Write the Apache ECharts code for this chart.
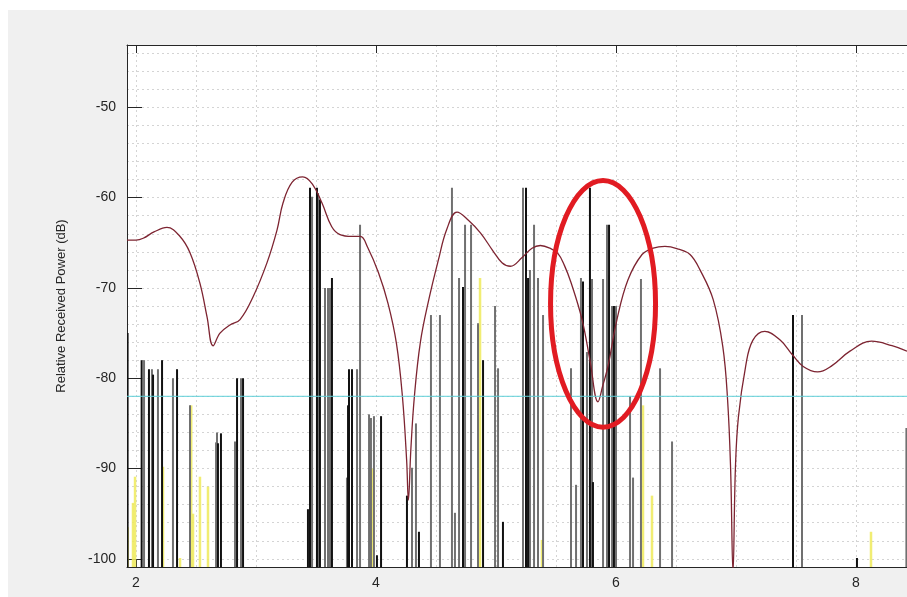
<!DOCTYPE html>
<html>
<head>
<meta charset="utf-8">
<script src="https://cdn.jsdelivr.net/npm/echarts@6/dist/echarts.min.js"></script>
<style>
  html, body { margin: 0; padding: 0; background: #ffffff; }
  #wrap { position: relative; width: 907px; height: 597px; overflow: hidden; }
  #bg { position: absolute; left: 8px; top: 10px; width: 899px; height: 587px; background: #f0f0f0; }
  #chart { position: absolute; left: 0; top: 0; width: 907px; height: 597px; }
</style>
</head>
<body>
<div id="wrap"><div id="bg"></div><div id="chart"></div></div>
<script>
// ---- axis ranges & ticks ----
const xRange = [1.925, 8.425];
const yRange = [-100.9, -43.1];
const xTickStep = 2;
const yTickStep = 10;
const yLabel = 'Relative Received Power (dB)';

// ---- model curve (dark red) ----
const curveX = [1.925, 2.0, 2.06, 2.15, 2.258, 2.367, 2.45, 2.533, 2.592, 2.642, 2.70, 2.783, 2.867, 2.975, 3.092, 3.175, 3.225, 3.30, 3.39, 3.47, 3.55, 3.63, 3.70, 3.80, 3.87, 3.93, 4.02, 4.10, 4.17, 4.22, 4.255, 4.27, 4.29, 4.32, 4.37, 4.44, 4.52, 4.59, 4.675, 4.77, 4.87, 4.97, 5.05, 5.12, 5.22, 5.30, 5.37, 5.45, 5.517, 5.57, 5.625, 5.717, 5.783, 5.85, 5.89, 5.933, 6.008, 6.10, 6.217, 6.31, 6.408, 6.52, 6.617, 6.70, 6.81, 6.89, 6.93, 6.955, 6.975, 6.995, 7.02, 7.08, 7.14, 7.24, 7.37, 7.47, 7.56, 7.68, 7.80, 7.95, 8.13, 8.30, 8.425];
const curveY = [-64.7, -64.7, -64.5, -63.8, -63.3, -64.3, -66.1, -69.5, -73.2, -76.4, -75.0, -74.1, -73.5, -71.0, -67.2, -63.6, -60.6, -58.3, -57.7, -58.5, -60.6, -63.2, -64.1, -64.3, -64.3, -65.5, -68.3, -71.7, -76.1, -82.0, -89.0, -93.5, -88.0, -82.0, -76.0, -71.3, -66.9, -63.5, -61.6, -62.5, -63.9, -65.8, -67.2, -67.6, -66.6, -65.6, -65.3, -65.6, -66.2, -67.5, -69.4, -73.5, -78.0, -82.6, -80.8, -78.7, -73.5, -69.1, -66.3, -65.6, -65.4, -65.7, -66.3, -68.0, -71.3, -76.5, -82.4, -90.0, -101.5, -90.0, -84.3, -78.7, -75.8, -74.8, -75.8, -77.4, -78.7, -79.3, -78.6, -77.0, -75.9, -76.4, -77.0];

// ---- threshold (cyan) ----
const thresholdDb = -82;

// ---- measured paths (stems) ----
const blackX = [1.93, 2.047, 2.108, 2.142, 2.217, 2.342, 2.683, 2.708, 2.842, 2.892, 3.433, 3.45, 3.508, 3.533, 3.633, 3.767, 3.775, 3.80, 4.008, 4.042, 4.258, 4.358, 4.725, 4.892, 5.058, 5.25, 5.267, 5.725, 5.783, 5.808, 5.942, 5.983, 7.475, 8.008];
const blackY = [-75, -78, -79, -79.6, -78, -79, -87.2, -86.1, -80, -80, -94.5, -58.9, -58.9, -60.2, -68.9, -83, -79, -79, -99.6, -84.2, -93, -97, -69.9, -78, -95.9, -58.9, -68.9, -69.3, -58.9, -91.5, -63, -72, -73, -99.9];

const grayX = [2.067, 2.133, 2.183, 2.308, 2.45, 2.667, 2.675, 2.825, 2.875, 3.467, 3.517, 3.575, 3.60, 3.617, 3.758, 3.842, 3.867, 3.942, 3.958, 3.983, 4.30, 4.333, 4.458, 4.533, 4.633, 4.658, 4.692, 4.742, 4.792, 4.85, 4.992, 5.017, 5.225, 5.283, 5.317, 5.35, 5.392, 5.625, 5.667, 5.708, 5.758, 5.80, 5.892, 5.925, 5.933, 5.967, 6.0, 6.117, 6.142, 6.208, 6.367, 6.467, 7.55, 8.42];
const grayY = [-78, -79, -79, -80, -83, -87.1, -86, -87, -80, -59.9, -59.5, -70, -70, -70, -91, -79, -63, -84, -84.4, -84.2, -89.9, -85, -73, -73, -58.9, -94.9, -68.9, -63, -63, -73.9, -72, -78.9, -58.9, -68, -63, -68.9, -73, -78.9, -91.8, -68.9, -77.1, -69, -69, -63, -68.6, -72, -72, -82, -91, -69, -78.9, -87, -73, -85.5];

const yellowX = [1.93, 1.975, 1.992, 2.225, 2.367, 2.46, 2.475, 2.533, 2.60, 3.967, 4.867, 5.383, 6.225, 6.30, 8.125];
const yellowY = [-96.5, -93.8, -90.9, -89.8, -99.9, -83, -95, -90.9, -92, -90, -68.9, -97.9, -83, -93, -97];

// ---- annotation ellipse: [centerX, centerY, radiusX, radiusY] in data units ----
const highlight = [5.892, -71.76, 0.4375, 13.66];

const zip = (a, b) => a.map((v, i) => [v, b[i]]);

function stemSeries(xs, ys, color, width) {
  return {
    type: 'custom',
    clip: true,
    data: zip(xs, ys),
    encode: { x: 0, y: 1 },
    renderItem: function (params, api) {
      const x = api.value(0), y = api.value(1);
      const top = api.coord([x, y]);
      const bot = api.coord([x, yRange[0]]);
      return {
        type: 'line',
        shape: { x1: top[0], y1: top[1], x2: bot[0], y2: bot[1] },
        style: { stroke: color, lineWidth: width }
      };
    },
    z: 3
  };
}

const gridLine = { show: true, lineStyle: { color: '#d4d4d4', type: [2, 3], width: 1 } };
const axisColor = '#262626';
const font = 'Liberation Sans, Arial, sans-serif';

const chart = echarts.init(document.getElementById('chart'), null, { renderer: 'canvas' });
chart.setOption({
  animation: false,
  backgroundColor: 'transparent',
  grid: { left: 127, top: 45, right: 0, bottom: 30, show: true, backgroundColor: '#ffffff', borderWidth: 0, containLabel: false, outerBoundsMode: 'none' },
  xAxis: [
    {
      type: 'value', position: 'bottom', min: xRange[0], max: xRange[1],
      minInterval: xTickStep, maxInterval: xTickStep,
      axisLine: { show: true, onZero: false, lineStyle: { color: axisColor, width: 1 } },
      axisTick: { show: true, inside: true, length: 8, lineStyle: { color: axisColor } },
      axisLabel: { show: true, margin: 9, color: axisColor, fontSize: 14, fontFamily: font,
        formatter: v => (Math.abs(v / xTickStep - Math.round(v / xTickStep)) < 1e-6 ? String(Math.round(v)) : '') },
      splitLine: { show: false }
    },
    {
      type: 'value', position: 'top', min: xRange[0], max: xRange[1],
      minInterval: xTickStep, maxInterval: xTickStep,
      axisLine: { show: true, onZero: false, lineStyle: { color: axisColor, width: 1 } },
      axisTick: { show: true, inside: true, length: 8, lineStyle: { color: axisColor } },
      axisLabel: { show: false },
      splitLine: { show: false }
    },
    {
      type: 'value', position: 'bottom', min: xRange[0], max: xRange[1],
      minInterval: 0.5, maxInterval: 0.5,
      axisLine: { show: false }, axisTick: { show: false }, axisLabel: { show: false },
      splitLine: gridLine
    }
  ],
  yAxis: [
    {
      type: 'value', position: 'left', min: yRange[0], max: yRange[1],
      minInterval: yTickStep, maxInterval: yTickStep,
      name: yLabel, nameLocation: 'middle', nameGap: 59, nameRotate: 90,
      nameTextStyle: { color: axisColor, fontSize: 13, fontFamily: font },
      axisLine: { show: true, onZero: false, lineStyle: { color: axisColor, width: 1 } },
      axisTick: { show: true, inside: true, length: 15, lineStyle: { color: axisColor } },
      axisLabel: { show: true, margin: 11, color: axisColor, fontSize: 14, fontFamily: font,
        formatter: v => (Math.abs(v / yTickStep - Math.round(v / yTickStep)) < 1e-6 ? String(Math.round(v)) : '') },
      splitLine: { show: false }
    },
    {
      type: 'value', position: 'left', min: yRange[0], max: yRange[1],
      minInterval: 2, maxInterval: 2,
      axisLine: { show: false }, axisTick: { show: false }, axisLabel: { show: false },
      splitLine: gridLine
    }
  ],
  series: [
    stemSeries(yellowX, yellowY, 'rgba(238,234,90,0.85)', 2.5),
    stemSeries(grayX, grayY, '#707070', 2),
    stemSeries(blackX, blackY, '#111111', 2),
    {
      type: 'line', data: zip(curveX, curveY), smooth: 0.4,
      showSymbol: false, symbol: 'none', clip: true,
      lineStyle: { color: '#7d2431', width: 1.3 }, z: 4
    },
    {
      type: 'line', data: [[xRange[0], thresholdDb], [xRange[1], thresholdDb]],
      showSymbol: false, symbol: 'none',
      lineStyle: { color: '#5fd0d8', width: 1 }, z: 4
    },
    {
      type: 'custom', data: [highlight], clip: false,
      encode: { x: 0, y: 1 },
      renderItem: function (params, api) {
        const c = api.coord([api.value(0), api.value(1)]);
        const s = api.size([api.value(2), api.value(3)]);
        return {
          type: 'ellipse',
          shape: { cx: c[0], cy: c[1], rx: s[0], ry: s[1] },
          style: { fill: null, stroke: '#e11b22', lineWidth: 5 }
        };
      },
      z: 10
    }
  ]
});
</script>
</body>
</html>
